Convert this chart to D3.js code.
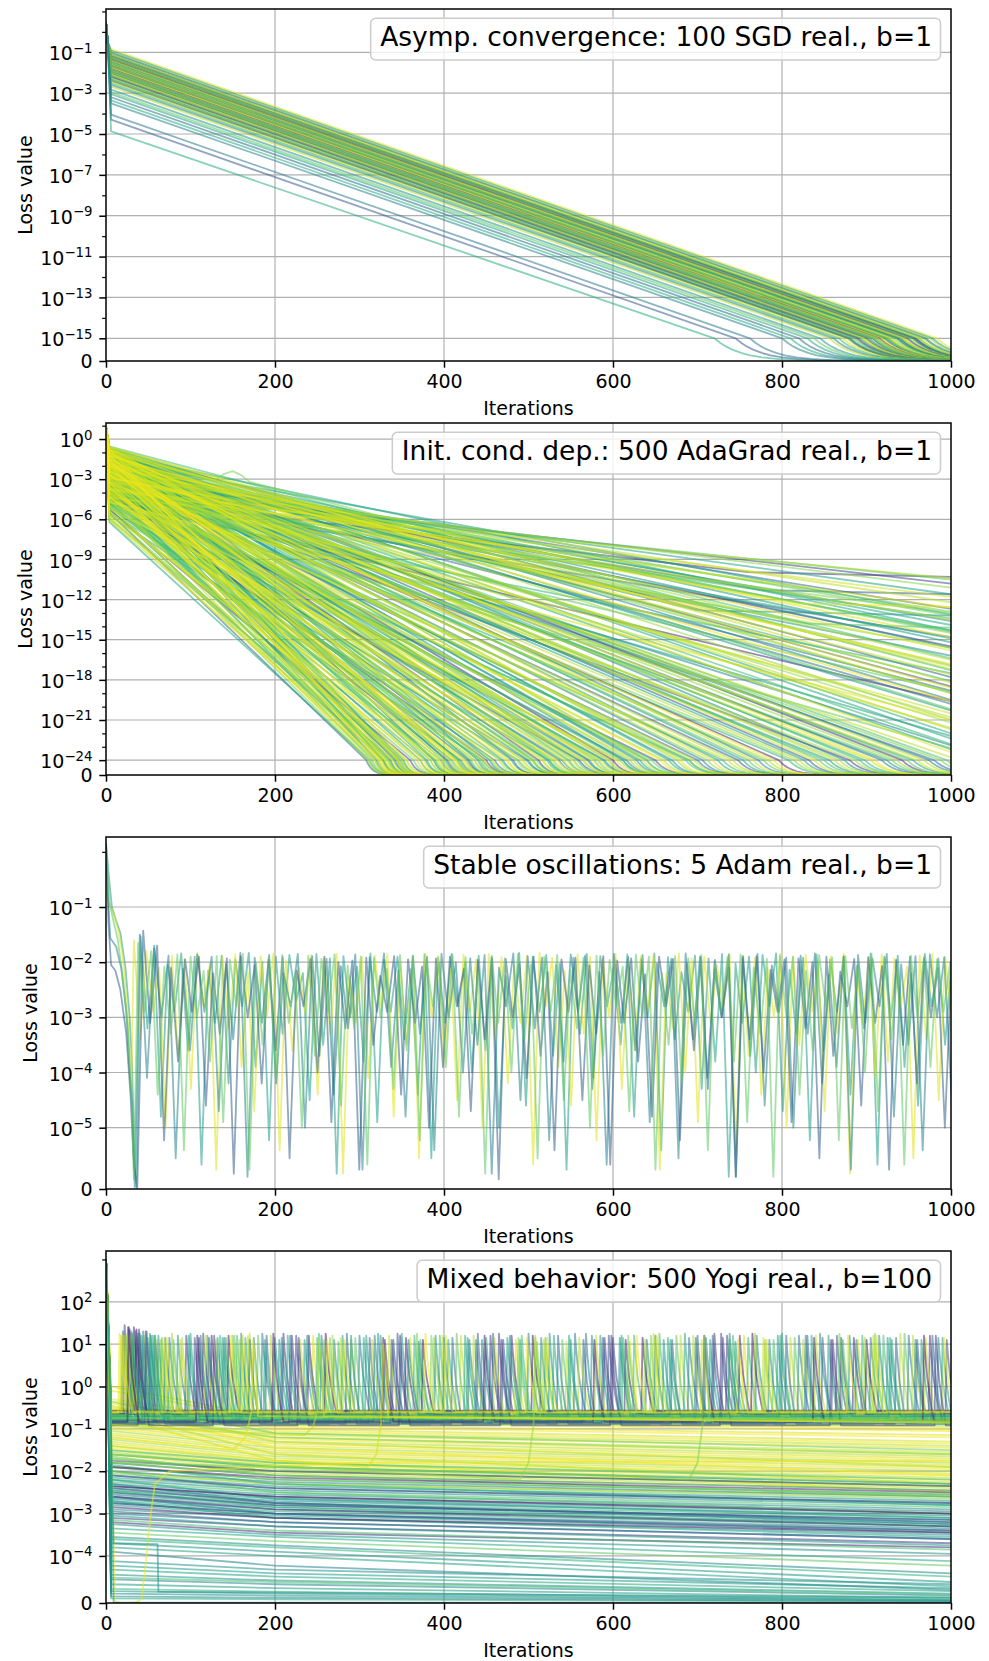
<!DOCTYPE html>
<html>
<head>
<meta charset="utf-8">
<script src="https://cdn.jsdelivr.net/npm/d3@7"></script>
<style>
  body { margin: 0; background: #fff; }
  svg { display: block; background: #fff; }
</style>
</head>
<body>
<svg id="chart" width="989" height="1661"></svg>
<script>
// ---------- data (exponents = log10 of the loss) ----------
const ITER_TICKS = [0, 200, 400, 600, 800, 1000];
const TITLES = [
  "Asymp. convergence: 100 SGD real., b=1",
  "Init. cond. dep.: 500 AdaGrad real., b=1",
  "Stable oscillations: 5 Adam real., b=1",
  "Mixed behavior: 500 Yogi real., b=100"
];
const LINTHRESH_EXP = [-15, -24, -5, -4];
const Y_LABEL_EXPS = [
  [-1, -3, -5, -7, -9, -11, -13, -15],
  [0, -3, -6, -9, -12, -15, -18, -21, -24],
  [-1, -2, -3, -4, -5],
  [2, 1, 0, -1, -2, -3, -4]
];
const Y_MINOR_EXPS = [
  [1, 0, -2, -4, -6, -8, -10, -12, -14],
  [1, -1, -2, -4, -5, -7, -8, -10, -11, -13, -14, -16, -17, -19, -20, -22, -23],
  [0],
  [3]
];
// how a run sinks below the linear threshold (decades under it)
const TAIL_DECADES = [0, 0.1, 0.2, 0.3, 0.45, 0.6, 0.8, 1.05, 1.4, 1.9, 2.6, 3.5];

// panel 1: value after the first drop (x=6), iteration where 1e-15 is reached, colour
const P1_START = [-0.85,-0.92,-0.98,-1.03,-1.08,-1.12,-1.15,-1.17,-1.2,-1.22,-1.25,-1.28,-1.3,-1.32,-1.35,-1.36,-1.4,-1.42,-1.44,-1.48,
  -1.5,-1.52,-1.55,-1.58,-1.6,-1.63,-1.65,-1.67,-1.7,-1.72,-1.74,-1.76,-1.78,-1.82,-1.86,-1.88,-1.9,-1.93,-1.95,-1.98,
  -2.0,-2.03,-2.05,-2.08,-2.1,-2.15,-2.18,-2.2,-2.26,-2.3,-2.32,-2.38,-2.4,-2.45,-2.52,-2.6,-2.68,-2.83,-2.95,-3.05,
  -3.2,-3.35,-3.5,-4.05,-4.3,-4.87];
const P1_HIT = [983,978,975,970,968,964,958,962,958,962,955,953,955,950,943,948,945,940,942,939,
  942,936,934,936,931,928,925,927,923,918,921,925,918,915,913,908,911,903,907,909,
  903,898,900,895,896,892,888,889,885,880,881,877,879,872,867,861,856,845,838,830,
  820,810,800,762,745,720];
const P1_COLOR = [.95,.55,.85,.3,.7,.98,.45,.9,.2,.8, .6,.97,.38,.75,.92,.15,.88,.5,.99,.33,
  .82,.65,.93,.42,.78,.96,.25,.87,.58,.94, .4,.8,.99,.12,.9,.52,.72,.97,.35,.85,
  .62,.92,.28,.78,.95,.48,.88,.18,.7,.98, .55,.84,.3,.93,.66,.45,.9,.5,.75,.6,
  .35,.62,.45,.4,.28,.62];

// panel 2: [value at x=4, iteration where 1e-24 is reached, colour]
const P2_HIT = [
  [-5.8,322,.97],[-6.2,312,.6],[-5.5,308,.35],[-4.9,310,.8],[-4.2,312,.9],[-3.6,315,.72],[-3.0,318,.88],[-2.4,320,.5],
  [-1.8,324,.93],[-1.2,327,.78],[-0.7,330,.95],[-5.2,328,.42],[-4.6,334,.85],[-3.9,336,.62],[-3.2,339,.98],[-2.6,342,.3],
  [-2.0,344,.82],[-1.4,346,.9],[-0.9,348,.68],[-5.9,340,.75],[-4.4,345,.55],[-2.9,350,.94],
  [-5.0,318,.9],[-4.0,322,.75],[-3.3,326,.96],[-2.2,329,.65],[-1.6,333,.88],[-1.0,337,.7],[-5.6,334,.82],[-3.5,345,.92],
  [-2.3,352,.6],[-1.1,355,.97],[-4.7,350,.68],[-6.1,330,.9],
  [-6.0,356,.88],[-5.3,360,.2],[-4.7,364,.76],[-4.0,368,.9],[-3.4,372,.58],[-2.7,376,.96],[-2.1,380,.66],[-1.5,384,.84],
  [-0.9,388,.45],[-5.6,392,.92],[-4.8,396,.7],[-3.7,400,.87],[-2.9,404,.25],[-2.2,408,.8],[-1.6,412,.99],[-1.0,416,.6],
  [-5.1,420,.5],[-4.3,424,.95],[-3.3,428,.38],[-2.5,432,.74],[-1.8,436,.9],[-1.1,440,.55],[-0.7,444,.83],[-5.7,446,.64],
  [-3.9,450,.15],[-2.4,415,.91],[-3.1,390,.7],[-1.3,398,.86],
  [-5.4,372,.95],[-4.4,378,.62],[-3.6,384,.9],[-2.8,388,.78],[-2.0,394,.97],[-1.4,402,.55],[-0.8,406,.86],[-5.0,410,.74],
  [-4.1,414,.93],[-3.4,418,.66],[-2.6,422,.99],[-1.9,426,.8],[-1.2,430,.45],[-4.6,436,.88],[-3.0,442,.72],[-2.2,448,.94],
  [-1.6,454,.58],[-0.9,458,.9],
  [-5.0,455,.78],[-4.1,460,.4],[-3.2,465,.9],[-2.3,470,.62],[-1.5,476,.97],[-0.8,482,.33],[-5.5,488,.7],[-4.4,494,.88],
  [-3.5,500,.52],[-2.6,506,.8],[-1.7,512,.18],[-1.0,518,.92],[-4.8,524,.6],[-3.8,530,.84],[-2.8,536,.45],[-1.9,542,.96],
  [-1.2,548,.68],[-0.6,554,.8],[-4.2,560,.28],[-3.0,566,.9],[-2.0,572,.57],[-1.3,578,.75],[-5.2,584,.94],[-3.6,590,.48],
  [-2.4,596,.86],[-1.6,600,.12],[-0.9,525,.72],[-2.2,505,.63],
  [-4.6,468,.7],[-3.7,474,.95],[-2.9,480,.6],[-2.0,486,.85],[-1.3,492,.98],[-5.1,498,.5],[-4.0,504,.9],[-3.1,510,.76],
  [-2.3,516,.92],[-1.5,522,.64],[-0.8,528,.87],[-4.4,534,.96],[-3.4,540,.55],[-2.5,546,.82],[-1.7,552,.93],[-1.0,558,.7],
  [-3.9,564,.88],[-2.7,570,.42],[-1.8,576,.97],[-1.1,582,.78],[-3.3,588,.65],[-2.1,594,.9],
  [-4.6,608,.82],[-3.4,616,.42],[-2.3,624,.9],[-1.4,632,.6],[-0.8,640,.77],[-3.9,650,.22],[-2.7,660,.88],[-1.8,670,.5],
  [-1.0,680,.95],[-4.1,690,.65],[-2.9,700,.35],[-1.9,712,.83],[-1.2,724,.58],[-3.2,736,.92],[-2.1,748,.28],[-1.5,760,.74],
  [-0.7,772,.45],[-2.6,784,.87],[-1.7,796,.1],[-3.6,640,.69],[-2.4,690,.79],[-1.1,612,.53],
  [-4.0,604,.94],[-3.0,612,.7],[-2.0,620,.86],[-1.2,628,.5],[-0.6,636,.92],[-3.5,646,.76],[-2.4,656,.98],[-1.5,666,.62],
  [-0.9,676,.85],[-3.8,686,.72],[-2.6,696,.9],[-1.6,706,.45],[-1.0,718,.95],[-2.9,730,.68],[-1.9,742,.88],[-1.3,754,.56],
  [-0.8,766,.93],[-2.3,778,.75],[-1.5,790,.97],
  [-2.8,808,.63],[-1.9,820,.9],[-1.3,832,.3],[-0.8,844,.75],[-2.3,856,.55],[-1.6,868,.85],[-3.1,880,.2],[-1.0,892,.67],
  [-2.0,905,.92],[-1.4,918,.4],[-2.6,930,.78],[-0.9,942,.13],[-1.8,955,.6],[-1.2,968,.88],[-2.2,980,.36],[-1.5,995,.72],
  [-2.5,814,.82],[-1.6,826,.58],[-1.0,838,.94],[-2.0,850,.7],[-1.3,862,.9],[-0.7,874,.48],[-2.7,886,.86],[-1.7,898,.66],
  [-1.1,910,.96],[-2.4,924,.52],[-1.5,936,.84],[-0.8,948,.74],[-2.1,960,.92],[-1.4,974,.44],[-1.8,988,.8]
];
// panel 2: [value at x=4, value at x=1000, colour]
const P2_END = [
  [-0.55,-17.3,.7],[-0.6,-18.2,.92],[-0.65,-19.5,.45],[-0.7,-21,.85],[-0.75,-22.4,.6],[-0.8,-23.4,.96],[-0.9,-17.8,.3],
  [-1.0,-19,.8],[-1.1,-20.3,.55],[-1.2,-21.7,.9],[-1.3,-22.8,.68],[-1.4,-18.5,.25],[-1.5,-16.5,.87],[-1.7,-15.6,.5],
  [-1.9,-14.8,.95],[-2.1,-13.9,.62],[-2.3,-13.2,.78],[-2.5,-12.7,.35],[-2.7,-12.2,.9],[-3.0,-11.6,.58],[-3.3,-11.1,.82],
  [-3.6,-10.8,.2],[-4.0,-10.5,.74],[-4.4,-10.4,.88],
  [-1.6,-19.8,.4],[-2.0,-17,.9],[-2.4,-15.5,.15],[-2.8,-14.3,.72],[-3.2,-13.5,.88],[-3.5,-16.2,.5],[-3.8,-12.6,.95],
  [-4.2,-14.8,.3],[-4.6,-13,.8],[-4.9,-17.5,.65],[-1.8,-21.2,.84],[-2.6,-18.8,.38],[-3.4,-20.5,.92],[-4.0,-22.2,.58],
  [-4.5,-19.6,.1],[-5.0,-23.1,.76],[-2.2,-23.8,.9],[-3.0,-22.9,.47],[-1.1,-14.3,.6],
  [-0.6,-19,.9],[-0.7,-20.2,.75],[-0.85,-18.6,.96],[-0.95,-22,.62],[-1.05,-17.2,.88],[-1.15,-16.4,.7],[-1.25,-19.6,.98],
  [-1.35,-15.2,.55],[-1.55,-17.6,.9],[-1.75,-16.9,.8],[-1.95,-18.1,.66],[-2.05,-15.8,.94],[-2.25,-14.4,.72],[-2.45,-20.8,.88],
  [-2.65,-13.6,.5],[-2.85,-16.8,.97],[-3.1,-12.9,.78],[-3.35,-14.9,.6],[-3.7,-11.8,.92],[-4.1,-13.4,.7],[-4.3,-15.6,.85],
  [-1.45,-23.2,.64],[-2.95,-21.6,.9],[-3.9,-18.9,.74],[-4.7,-21,.95],[-1.65,-13.1,.58]
];
// panel 2: runs that flatten late [value at x=4, knee x, knee value, value at 1000, colour]
const P2_BENT = [
  [-4.4,760,-9.95,-10.3,.15],[-3.2,780,-11.3,-11.6,.28],[-2.9,820,-12.3,-12.55,.95],[-2.0,700,-12.8,-13.2,.5],[-3.6,830,-13.8,-14.1,.7]
];
const P2_BUMP = [[0,0.9],[4,-1.0],[128,-3.1],[140,-2.6],[150,-2.4],[160,-2.7],[170,-3.2],[400,-7.0],[1000,-14.5]];

// panel 3: start of each Adam run, then period, first peaks, peak and trough depths per cycle
const P3_HEAD = [
  [[0,0.16],[4,-0.55],[7,-1.0],[12,-1.25],[17,-1.47],[23,-2.1],[28,-3.0],[31,-3.94],[34,-5.5],[36,-6.5]],
  [[0,-0.75],[4,-0.95],[9,-1.12],[14,-1.4],[20,-1.9],[25,-2.8],[28,-3.6],[30,-4.3]],
  [[0,0.1],[3,-1.0],[5,-1.56],[12,-1.72],[18,-2.1],[24,-2.9],[28,-4.0],[31,-4.6],[34,-6.5]],
  [[0,0.16],[3,-1.3],[6,-2.05],[11,-2.15],[17,-2.5],[24,-3.3],[29,-4.4],[33,-5.4],[37,-6.8]],
  [[0,0.05],[4,-0.9],[8,-1.2],[14,-1.6],[20,-2.3],[26,-3.2],[30,-4.4],[33,-5.8]]
];
const P3_COLOR = [.55, .95, .45, .3, .75];
const P3_FIRST_X = [41, 33, 40, 44, 38];
const P3_PERIOD = [16, 15, 17, 16.5, 15.5];
const P3_FIRST_PEAKS = [[-1.53,-1.75],[-1.6,-1.8],[-1.5,-1.7],[-1.43,-1.7],[-1.65,-1.8]];
const P3_PEAKS = [
  [1.86,1.92,2.05,1.84,1.9,2.15,1.88,1.95,1.83,2.0, 1.9,1.87,2.2,1.85,1.93,1.89,2.08,1.84,1.96,1.9,
   2.12,1.86,1.91,1.85,2.0,1.88,1.94,2.25,1.83,1.9, 1.87,2.03,1.92,1.85,1.89,2.1,1.86,1.95,1.84,1.91,
   2.18,1.88,1.93,1.85,2.02,1.9,1.87,1.84,2.14,1.92, 1.86,1.95,1.89,2.06,1.84,1.9,1.88,2.2,1.85,1.93, 1.9,1.87],
  [1.9,1.85,2.1,1.88,1.94,1.83,2.02,1.91,1.86,2.18, 1.89,1.84,1.97,2.08,1.87,1.92,1.85,2.24,1.9,1.88,
   1.86,2.04,1.93,1.84,1.89,2.12,1.87,1.95,1.85,1.91, 2.06,1.88,1.83,1.92,2.16,1.86,1.9,1.94,1.85,2.0,
   1.89,1.87,2.2,1.84,1.93,1.9,2.05,1.86,1.88,1.92, 2.1,1.85,1.91,1.87,2.02,1.89,1.84,2.15,1.9,1.86, 1.93,2.08,1.88,1.85,1.91,1.9],
  [1.84,1.95,1.88,2.12,1.86,1.9,2.03,1.83,1.92,1.87, 2.2,1.85,1.89,1.94,2.07,1.86,1.91,1.84,2.15,1.88,
   1.9,1.85,2.0,1.93,1.87,2.1,1.84,1.89,1.92,2.05, 1.86,1.88,2.18,1.85,1.91,1.87,2.02,1.94,1.84,1.9,
   2.13,1.86,1.89,1.85,2.06,1.92,1.88,1.84,2.22,1.9, 1.87,1.93,1.85,2.04,1.89,1.86,1.91,1.88],
  [1.92,1.88,2.1,1.95,1.9,2.2,1.93,1.89,2.05,1.96, 1.91,2.15,1.94,1.9,2.0,1.97,1.92,2.25,1.89,1.95,
   2.08,1.93,1.9,2.12,1.96,1.91,1.94,2.03,1.9,2.18, 1.95,1.92,2.06,1.89,1.97,1.93,2.22,1.9,1.94,2.02,
   1.91,1.96,2.1,1.92,1.89,2.14,1.95,1.93,2.0,1.9, 2.17,1.94,1.91,2.07,1.96,1.9,1.93,2.11,1.92,1.95],
  [1.88,1.93,2.08,1.86,1.9,2.16,1.89,1.95,1.85,2.02, 1.91,1.87,2.22,1.88,1.94,1.86,2.06,1.9,1.92,2.12,
   1.87,1.89,1.95,2.0,1.86,1.91,2.18,1.88,1.93,1.85, 2.04,1.9,1.87,2.14,1.92,1.88,1.96,2.08,1.86,1.9,
   2.2,1.89,1.93,1.87,2.03,1.91,1.86,2.1,1.94,1.88, 1.9,2.16,1.87,1.92,1.89,2.05,1.85,1.93,2.12,1.88, 1.91,1.95,2.0,1.89]
];
const P3_TROUGHS = [
  [3.2,4.8,2.9,3.6,5.4,3.1,4.2,2.8,3.9,5.1, 3.3,2.7,4.5,3.5,5.6,3.0,3.8,4.9,2.9,3.4,
   4.4,5.3,3.1,2.8,4.0,3.6,5.0,3.2,4.6,2.9, 3.7,5.5,3.3,4.1,2.8,3.5,4.8,3.0,5.2,3.4,
   2.9,4.3,3.8,5.7,3.1,4.0,2.8,4.7,3.3,5.1, 3.6,2.9,4.4,3.2,5.4,3.0,3.9,4.6,2.8,3.5, 4.9,3.2],
  [3.4,2.9,5.0,3.7,4.3,2.8,5.5,3.2,3.9,4.7, 3.0,5.2,3.6,2.9,4.4,3.3,5.6,3.1,4.1,2.8,
   4.8,3.5,5.3,3.0,3.8,4.5,2.9,5.0,3.4,4.2, 3.1,5.4,2.8,3.9,4.6,3.3,5.1,3.0,4.3,3.6,
   2.9,5.5,3.2,4.0,4.9,3.1,2.8,5.2,3.7,4.4, 3.0,5.0,3.5,2.9,4.7,3.3,5.6,3.1,4.1,3.8, 2.8,5.3,3.4,4.5,3.0,4.0],
  [4.1,3.0,5.3,3.6,2.9,4.7,3.4,5.7,3.1,4.2, 2.8,5.0,3.7,4.4,3.2,5.5,2.9,3.9,4.8,3.3,
   5.2,3.0,4.0,3.5,5.6,2.8,4.5,3.2,5.1,3.8, 2.9,4.3,5.4,3.1,3.6,4.9,2.8,5.3,3.4,4.1,
   3.0,5.7,3.7,4.6,2.9,5.0,3.3,4.2,3.9,5.5, 3.1,2.8,4.8,3.5,5.2,3.0,4.4,3.6],
  [3.1,5.1,3.8,2.9,4.6,3.3,5.6,3.0,4.2,3.6, 5.3,2.8,4.0,4.9,3.2,5.5,3.5,2.9,4.4,3.1,
   5.0,3.9,2.8,4.7,3.4,5.8,3.0,4.1,3.7,5.2, 2.9,4.5,3.3,5.4,3.1,3.8,4.8,2.8,5.1,3.6,
   4.3,3.0,5.7,3.4,4.0,2.9,4.9,3.2,5.3,3.7, 2.8,4.6,3.1,5.5,3.5,4.2,3.0,5.0,3.3,4.4],
  [2.9,4.4,3.3,5.2,3.0,3.8,4.9,2.8,5.5,3.5, 4.1,3.1,5.0,3.7,2.9,4.6,3.2,5.4,3.0,4.3,
   3.6,5.1,2.8,3.9,4.8,3.3,5.6,3.1,4.0,3.4, 5.3,2.9,4.5,3.2,5.0,3.7,2.8,4.7,3.0,5.5,
   3.5,4.2,3.1,5.2,2.9,3.8,4.9,3.3,5.7,3.0, 4.4,3.6,2.8,5.1,3.2,4.0,4.7,3.4,5.4,3.0, 3.9,2.9,4.6,3.3]
];

// panel 4: slowly decaying runs [value at x=6, at x=200, at x=1000, colour]
const P4_FLAT = [
  [-0.1,-0.8,-1.0,.97],[0.0,-0.75,-0.95,.93],
  [-0.3,-0.85,-1.05,.98],[-0.4,-0.9,-1.15,.95],[-0.5,-0.95,-1.2,.99],[-0.55,-1.0,-1.3,.93],[-0.6,-1.05,-1.35,.97],
  [-0.7,-1.1,-1.4,.9],[-0.75,-1.15,-1.45,.96],[-0.8,-1.2,-1.55,.92],[-0.85,-1.25,-1.6,.99],[-0.9,-1.3,-1.65,.88],
  [-0.95,-1.35,-1.7,.94],[-1.0,-1.4,-1.75,.97],[-1.05,-1.45,-1.8,.86],[-1.1,-1.5,-1.85,.95],[-1.15,-1.55,-1.9,.91],
  [-1.2,-1.6,-1.95,.98],[-1.25,-1.65,-2.0,.87],[-1.3,-1.7,-2.05,.93],[-1.35,-1.75,-2.1,.96],[-1.4,-1.8,-2.15,.89],
  [-1.45,-1.85,-2.2,.99],[-1.5,-1.9,-2.25,.92],[-1.55,-1.95,-2.3,.85],[-1.6,-2.0,-2.35,.95],[-1.7,-2.05,-2.4,.9],
  [-1.8,-2.1,-2.45,.97],[-1.9,-2.2,-2.55,.88],[-2.0,-2.3,-2.6,.94],[-0.65,-1.2,-1.6,.8],[-0.45,-1.3,-1.9,.91],
  [-0.35,-1.1,-1.5,.78],[-0.5,-1.45,-2.1,.99],[-0.6,-1.6,-2.3,.9],[-0.7,-1.75,-2.5,.95],
  [-1.5,-1.8,-2.2,.7],[-1.6,-1.9,-2.3,.55],[-1.7,-2.0,-2.35,.75],[-1.8,-2.1,-2.45,.5],[-1.9,-2.2,-2.55,.65],
  [-2.0,-2.25,-2.6,.45],[-2.05,-2.3,-2.65,.8],[-2.1,-2.35,-2.7,.52],[-2.15,-2.4,-2.75,.6],[-2.2,-2.45,-2.8,.48],
  [-2.25,-2.5,-2.85,.72],[-2.3,-2.55,-2.9,.5],[-2.35,-2.6,-2.95,.42],[-2.4,-2.65,-3.0,.58],[-2.45,-2.7,-3.05,.46],
  [-2.5,-2.75,-3.1,.66],[-2.55,-2.8,-3.15,.4],[-2.6,-2.85,-3.2,.53],[-2.65,-2.9,-3.25,.47],[-2.7,-2.95,-3.3,.62],
  [-2.75,-3.0,-3.35,.44],[-2.8,-3.05,-3.4,.56],[-2.9,-3.1,-3.5,.5],[-3.0,-3.2,-3.6,.41],[-1.65,-2.1,-2.6,.78],
  [-1.85,-2.3,-2.8,.63],[-2.0,-2.5,-3.0,.74],[-2.2,-2.65,-3.1,.57],[-2.3,-2.75,-3.25,.49],[-2.45,-2.85,-3.3,.68],
  [-2.6,-3.0,-3.45,.43],[-2.7,-3.1,-3.55,.59],
  [-1.9,-2.15,-2.5,.1],[-2.1,-2.4,-2.75,.2],[-2.35,-2.6,-3.0,.05],[-2.5,-2.8,-3.15,.3],[-2.6,-2.9,-3.3,.15],
  [-2.75,-3.0,-3.4,.25],[-2.85,-3.1,-3.45,.08],[-2.95,-3.2,-3.6,.32],[-3.1,-3.3,-3.7,.18],[-3.2,-3.45,-3.8,.12],
  [-2.4,-2.75,-3.2,.28],[-1.75,-2.0,-2.35,.22],
  [-3.05,-3.3,-3.75,.55],[-3.15,-3.4,-3.85,.7],[-3.25,-3.5,-3.95,.5],[-3.35,-3.55,-4.05,.6],[-3.45,-3.65,-4.1,.75],
  [-3.55,-3.75,-4.2,.48],[-3.6,-3.8,-4.25,.65],[-3.7,-3.9,-4.35,.52],[-3.8,-4.0,-4.45,.58],[-3.9,-4.1,-4.55,.45],
  [-4.05,-4.15,-4.4,.5],[-4.1,-4.2,-4.5,.55],[-4.15,-4.25,-4.6,.6],[-4.22,-4.32,-4.7,.5],[-4.3,-4.4,-4.8,.45],
  [-4.4,-4.5,-4.95,.55],[-4.52,-4.62,-5.1,.65],[-4.7,-4.8,-5.3,.5],[-5.0,-5.1,-5.6,.6],[-4.27,-4.35,-4.75,.7],
  [-4.6,-4.7,-5.2,.52],[-4.85,-4.95,-5.45,.48]
];
// panel 4: exploding runs, baseline value, colour, spikes [iteration, peak value]
const P4_SPIKE_BASE = [-0.7,-0.6,-0.78,-0.66,-0.85,-0.72,-0.62,-0.82,-0.68,-0.76,-0.58,-0.9,
  -0.64,-0.8,-0.6,-0.88,-0.71,-0.65,-0.79,-0.74,-0.57,-0.84,-0.69,-0.77,
  -0.63,-0.81,-0.67,-0.92,-0.73,-0.61,-0.86,-0.7,-0.75,-0.83,-0.66,-0.59];
const P4_SPIKE_COLOR = [.15,.45,.9,.55,.3,.7,.5,.95,.2,.62,.4,.8,.1,.58,.88,.35,.66,.25,.48,.75,.05,.52,.92,.6,
  .97,.42,.85,.18,.68,.9,.32,.56,.78,.08,.5,.94];
const P4_SPIKES = [
  [[22,1.45],[95,1.2],[210,1.25],[330,1.1],[455,1.2],[590,1.15],[720,1.25],[860,1.1],[975,1.2]],
  [[30,1.3],[140,1.15],[255,1.2],[370,1.05],[500,1.25],[640,1.1],[770,1.2],[905,1.15]],
  [[18,1.2],[60,1.1],[170,1.25],[290,1.1],[420,1.2],[545,1.05],[680,1.2],[810,1.15],[940,1.25]],
  [[40,1.25],[120,1.2],[235,1.1],[350,1.25],[475,1.15],[610,1.2],[745,1.05],[880,1.2]],
  [[26,1.4],[105,1.15],[190,1.2],[312,1.15],[440,1.25],[565,1.1],[700,1.2],[830,1.2],[960,1.1]],
  [[50,1.15],[155,1.2],[275,1.05],[395,1.2],[520,1.15],[655,1.25],[790,1.1],[920,1.2]],
  [[35,1.3],[85,1.2],[200,1.15],[322,1.25],[445,1.1],[575,1.2],[710,1.15],[845,1.25],[985,1.15]],
  [[45,1.2],[130,1.1],[245,1.2],[360,1.15],[485,1.1],[620,1.05],[755,1.2],[890,1.1]],
  [[28,1.35],[115,1.25],[220,1.2],[340,1.1],[465,1.25],[600,1.15],[735,1.2],[870,1.15]],
  [[55,1.2],[165,1.15],[280,1.2],[405,1.1],[530,1.2],[665,1.15],[800,1.25],[930,1.1]],
  [[20,1.3],[75,1.15],[185,1.25],[300,1.2],[430,1.1],[555,1.25],[690,1.15],[820,1.2],[950,1.2]],
  [[65,1.1],[150,1.2],[265,1.15],[385,1.2],[510,1.05],[645,1.2],[780,1.1],[910,1.25]],
  [[33,1.4],[125,1.2],[240,1.2],[355,1.15],[480,1.2],[615,1.1],[750,1.2],[885,1.15]],
  [[42,1.2],[100,1.25],[205,1.1],[325,1.2],[450,1.15],[585,1.2],[715,1.1],[855,1.2],[990,1.15]],
  [[24,1.25],[90,1.15],[195,1.2],[315,1.1],[435,1.2],[560,1.15],[695,1.2],[825,1.1],[955,1.2]],
  [[58,1.2],[170,1.1],[285,1.25],[410,1.15],[535,1.2],[670,1.1],[805,1.2],[935,1.15]],
  [[38,1.25],[135,1.2],[250,1.15],[365,1.2],[490,1.1],[625,1.2],[760,1.15],[895,1.2]],
  [[48,1.3],[110,1.15],[225,1.2],[345,1.25],[470,1.1],[595,1.2],[730,1.15],[865,1.2],[995,1.1]],
  [[70,1.15],[160,1.25],[270,1.1],[390,1.2],[515,1.15],[650,1.2],[785,1.1],[915,1.2]],
  [[32,1.2],[80,1.1],[180,1.2],[295,1.15],[415,1.25],[540,1.1],[675,1.2],[815,1.15],[945,1.25]],
  [[36,1.35],[145,1.2],[260,1.25],[375,1.1],[505,1.2],[635,1.15],[765,1.25],[900,1.1]],
  [[62,1.2],[175,1.15],[290,1.2],[400,1.15],[525,1.25],[660,1.1],[795,1.2],[925,1.15]],
  [[28,1.2],[118,1.2],[230,1.1],[335,1.2],[460,1.15],[580,1.2],[705,1.1],[840,1.2],[970,1.15]],
  [[52,1.25],[138,1.15],[215,1.2],[305,1.15],[425,1.2],[550,1.1],[685,1.25],[835,1.2],[965,1.1]],
  [[16,1.25],[68,1.15],[148,1.2],[262,1.1],[378,1.25],[498,1.15],[628,1.2],[748,1.1],[878,1.2],[992,1.15]],
  [[44,1.3],[112,1.2],[208,1.15],[318,1.2],[438,1.1],[568,1.25],[698,1.15],[828,1.2],[958,1.1]],
  [[25,1.2],[78,1.25],[158,1.1],[268,1.2],[388,1.15],[508,1.2],[638,1.1],[768,1.25],[898,1.15]],
  [[39,1.35],[128,1.2],[228,1.15],[348,1.2],[468,1.1],[598,1.2],[728,1.25],[858,1.1],[982,1.2]],
  [[57,1.2],[142,1.15],[252,1.25],[372,1.1],[492,1.2],[612,1.15],[742,1.2],[872,1.1]],
  [[21,1.2],[88,1.1],[168,1.2],[278,1.15],[398,1.2],[518,1.1],[648,1.25],[778,1.15],[908,1.2]],
  [[47,1.3],[122,1.15],[218,1.2],[338,1.1],[458,1.25],[588,1.15],[718,1.2],[848,1.15],[978,1.2]],
  [[31,1.25],[98,1.2],[188,1.1],[308,1.2],[428,1.15],[548,1.2],[668,1.1],[798,1.2],[928,1.15]],
  [[66,1.15],[152,1.2],[258,1.1],[368,1.25],[488,1.15],[618,1.2],[738,1.1],[868,1.25]],
  [[27,1.4],[108,1.2],[198,1.25],[328,1.15],[448,1.2],[578,1.1],[708,1.2],[838,1.15],[968,1.2]],
  [[53,1.2],[132,1.15],[238,1.2],[358,1.1],[478,1.2],[608,1.15],[738,1.25],[888,1.1]],
  [[19,1.2],[72,1.15],[162,1.2],[282,1.1],[402,1.2],[522,1.15],[652,1.2],[782,1.1],[912,1.2]]
];
// spike profile: [iteration offset, share of the jump]
const P4_SPIKE_SHAPE = [[-1.5, 0], [0, 1], [1.5, 0.78], [4, 0.5], [8, 0.22], [12, 0]];
// panel 4: individual runs drawn point by point
const P4_CURVES = [
  [[0,3],[6,-1.0],[11,-5.6],[18,-6.5],[34,-6.3],[42,-5.1],[48,-4.0],[53,-3.0],[58,-2.3],[75,-2.0],[300,-1.8],[1000,-1.75]],
  [[0,3],[6,-0.9],[120,-1.05],[235,-1.15],[245,-0.95],[250,-0.6],[252,1.1],[255,0.5],[258,-0.7],[1000,-0.8]],
  [[0,3],[6,-1.4],[200,-1.75],[310,-1.9],[320,-1.6],[326,-0.8],[328,1.0],[331,0.4],[334,-0.72],[1000,-0.85]],
  [[0,3],[6,-1.6],[300,-2.0],[490,-2.2],[500,-1.8],[506,-0.9],[508,1.15],[511,0.5],[514,-0.75],[1000,-0.85]],
  [[0,3],[6,-1.2],[150,-1.5],[165,-1.2],[172,-0.6],[174,1.1],[177,0.5],[180,-0.7],[1000,-0.85]],
  [[0,3],[6,-1.8],[600,-2.1],[690,-2.2],[700,-1.8],[706,-0.9],[708,1.2],[711,0.4],[714,-0.75],[1000,-0.85]],
  [[0,3],[6,-1.0],[9,-3.7],[61,-3.72],[62,-4.62],[1000,-4.95]],
  [[0,3],[5,0],[9,-6],[1000,-6.5]]
];
const P4_CURVE_COLOR = [.97, .9, .93, .85, .96, .8, .5, .55];

// ---------- layout ----------
const svg = d3.select("#chart");
const defs = svg.append("defs");
const LEFT = 106, RIGHT = 951, PANEL_H = 352;
const PANEL_TOP = [9, 423, 837, 1251];
const TOP_T = [17.23, 26.31, 6.38, 8.31];
const YLABEL_X = [31.5, 31.5, 36.7, 36.7];
const LS = 1 / (1 - 1 / 10);
const FONT = "'DejaVu Sans', sans-serif";

const x = d3.scaleLinear().domain([0, 1000]).range([LEFT, RIGHT]);
const color = d3.scaleSequential(d3.interpolateViridis).domain([0, 1]);

function makePanel(i) {
  const top = PANEL_TOP[i], bottom = top + PANEL_H, tExp = LINTHRESH_EXP[i];
  const y = d3.scaleLinear().domain([0, TOP_T[i]]).range([bottom, top]);
  // matplotlib-style symlog, in decades
  const T = (e) => (e >= tExp ? LS + e - tExp : LS * Math.pow(10, e - tExp));
  const Y = (e) => y(T(e));
  const g = svg.append("g");

  defs.append("clipPath").attr("id", "clip" + i)
    .append("rect").attr("x", LEFT).attr("y", top).attr("width", RIGHT - LEFT).attr("height", PANEL_H);

  const grid = g.append("g").attr("stroke", "#b0b0b0").attr("stroke-width", 1.2);
  grid.selectAll(".gx").data(ITER_TICKS.slice(1, -1)).join("line")
    .attr("x1", (d) => x(d)).attr("x2", (d) => x(d)).attr("y1", top).attr("y2", bottom);
  grid.selectAll(".gy").data(Y_LABEL_EXPS[i]).join("line")
    .attr("x1", LEFT).attr("x2", RIGHT).attr("y1", Y).attr("y2", Y);

  const plot = g.append("g").attr("clip-path", `url(#clip${i})`);
  const line = d3.line().x((d) => x(d[0])).y((d) => Y(d[1]));
  return { i, g, plot, line, y, T, Y, top, bottom, tExp };
}

function drawRuns(p, runs) {
  p.plot.selectAll("path.run").data(runs).join("path")
    .attr("class", "run")
    .attr("d", (d) => p.line(d.pts))
    .attr("fill", "none")
    .attr("stroke", (d) => color(d.c))
    .attr("stroke-width", 1.8)
    .attr("stroke-opacity", 0.55)
    .attr("stroke-linejoin", "round");
}

function tail(hitX, tExp, slope) {
  return TAIL_DECADES.slice(1).map((d) => [hitX + d / slope, tExp - d]);
}

function finishPanel(p) {
  const i = p.i;
  const ax = p.g.append("g");
  // x axis
  const xa = ax.append("g").attr("transform", `translate(0,${p.bottom})`)
    .call(d3.axisBottom(x).tickValues(ITER_TICKS).tickFormat(d3.format("d")).tickSize(6.7).tickPadding(6.8));
  xa.select(".domain").remove();
  xa.selectAll("line").attr("stroke", "#000").attr("stroke-width", 1.5);
  xa.selectAll("text").attr("fill", "#000").style("font-family", FONT).style("font-size", "19px");

  // y axis, labelled ticks
  const labels = Y_LABEL_EXPS[i].concat([null]);
  const ya = ax.append("g").attr("transform", `translate(${LEFT},0)`)
    .call(d3.axisLeft(p.y).tickValues(labels.map((e) => (e === null ? 0 : p.T(e)))).tickSize(6.7).tickFormat(""));
  ya.select(".domain").remove();
  ya.selectAll("line").attr("stroke", "#000").attr("stroke-width", 1.5);
  ya.selectAll(".tick").each(function (d, k) {
    const e = labels[k];
    const t = d3.select(this).append("text")
      .attr("x", -13.5).attr("text-anchor", "end").attr("fill", "#000")
      .style("font-family", FONT).style("font-size", "19px");
    if (e === null) {
      t.attr("y", 6.8).text("0");
    } else {
      t.attr("y", 7.6);
      t.append("tspan").text("10");
      t.append("tspan").attr("dy", -7.6).style("font-size", "13.3px")
        .text(e < 0 ? "\u2212" + -e : String(e));
    }
  });
  // y axis, minor ticks
  const ym = ax.append("g").attr("transform", `translate(${LEFT},0)`)
    .call(d3.axisLeft(p.y).tickValues(Y_MINOR_EXPS[i].map(p.T)).tickSize(3.8).tickFormat(""));
  ym.select(".domain").remove();
  ym.selectAll("line").attr("stroke", "#000").attr("stroke-width", 1.2);

  // frame
  ax.append("rect").attr("x", LEFT).attr("y", p.top).attr("width", RIGHT - LEFT).attr("height", PANEL_H)
    .attr("fill", "none").attr("stroke", "#000").attr("stroke-width", 1.5);

  // axis titles
  ax.append("text").attr("x", (LEFT + RIGHT) / 2).attr("y", p.bottom + 53.5)
    .attr("text-anchor", "middle").style("font-family", FONT).style("font-size", "19px").text("Iterations");
  ax.append("text")
    .attr("transform", `translate(${YLABEL_X[i]},${(p.top + p.bottom) / 2}) rotate(-90)`)
    .attr("text-anchor", "middle").style("font-family", FONT).style("font-size", "19px").text("Loss value");

  // title box
  const box = p.g.append("g");
  const tx = RIGHT - 19;
  const txt = box.append("text").attr("x", tx).attr("y", p.top + 37.2)
    .attr("text-anchor", "end").style("font-family", FONT).style("font-size", "26.5px").text(TITLES[i]);
  const w = txt.node().getComputedTextLength();
  box.insert("rect", "text")
    .attr("x", tx - w - 9.5).attr("y", p.top + 9.3).attr("width", w + 18).attr("height", 41.7)
    .attr("rx", 5).attr("fill", "#fff").attr("fill-opacity", 0.8)
    .attr("stroke", "#cccccc").attr("stroke-width", 1.5);
}

// ---------- panel 1 : SGD ----------
{
  const p = makePanel(0);
  const runs = P1_START.map((s, k) => {
    const h = P1_HIT[k];
    const slope = (s - p.tExp) / (h - 6);
    return { c: P1_COLOR[k], pts: [[0, 0.45], [2, -0.5], [6, s], [h, p.tExp]].concat(tail(h, p.tExp, slope)) };
  });
  drawRuns(p, runs);
  finishPanel(p);
}

// ---------- panel 2 : AdaGrad ----------
{
  const p = makePanel(1);
  const runs = [];
  P2_HIT.forEach(([s, h, c]) => {
    const slope = (s - p.tExp) / (h - 4);
    runs.push({ c, pts: [[0, 0.9], [4, s], [h, p.tExp]].concat(tail(h, p.tExp, slope)) });
  });
  P2_END.forEach(([s, e, c]) => runs.push({ c, pts: [[0, 0.9], [4, s], [1000, e]] }));
  P2_BENT.forEach(([s, xk, ek, e, c]) => runs.push({ c, pts: [[0, 0.9], [4, s], [xk, ek], [1000, e]] }));
  runs.push({ c: 0.8, pts: P2_BUMP });
  // the yellow runs sit on top in this panel
  runs.sort((a, b) => d3.ascending(a.c, b.c));
  drawRuns(p, runs);
  finishPanel(p);
}

// ---------- panel 3 : Adam ----------
{
  const p = makePanel(2);
  const runs = P3_HEAD.map((head, k) => {
    const pts = head.slice();
    const P = P3_PERIOD[k], x0 = P3_FIRST_X[k], first = P3_FIRST_PEAKS[k];
    P3_TROUGHS[k].forEach((depth, j) => {
      pts.push([x0 + j * P, j < first.length ? first[j] : -P3_PEAKS[k][j]]);
      pts.push([x0 + j * P + P * 0.5, -depth]);
    });
    pts.push([x0 + P3_TROUGHS[k].length * P, -1.9]);
    return { c: P3_COLOR[k], pts };
  });
  drawRuns(p, runs);
  finishPanel(p);
}

// ---------- panel 4 : Yogi ----------
{
  const p = makePanel(3);
  const runs = [];
  P4_FLAT.forEach(([a, b, e, c]) => runs.push({ c, pts: [[0, 3], [6, a], [200, b], [1000, e]] }));
  P4_SPIKE_BASE.forEach((base, k) => {
    const pts = [[0, 3], [6, base]];
    P4_SPIKES[k].forEach(([sx, peak]) => {
      P4_SPIKE_SHAPE.forEach(([dx, f]) => pts.push([sx + dx, base + f * (peak - base)]));
    });
    pts.push([1000, base]);
    runs.push({ c: P4_SPIKE_COLOR[k], pts });
  });
  P4_CURVES.forEach((pts, k) => runs.push({ c: P4_CURVE_COLOR[k], pts }));
  drawRuns(p, runs);
  finishPanel(p);
}
</script>
</body>
</html>
